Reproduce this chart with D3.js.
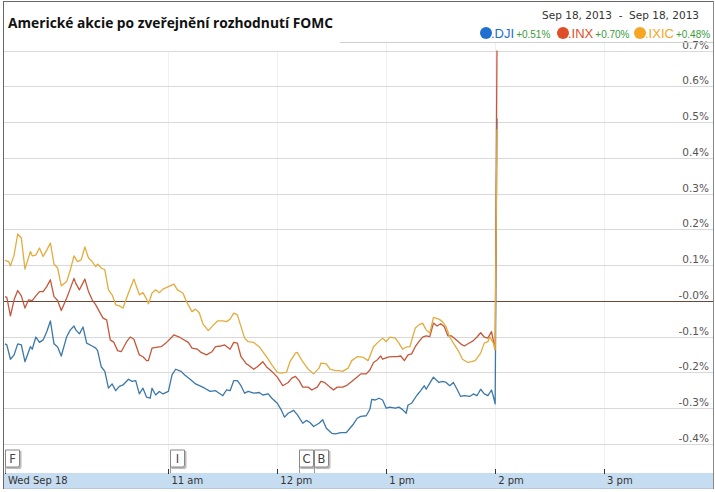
<!DOCTYPE html>
<html><head><meta charset="utf-8">
<script src="https://cdn.jsdelivr.net/npm/d3@7"></script>
<style>body{margin:0;background:#fff}svg{display:block}</style>
</head><body>
<svg id="c" width="715" height="492"></svg>
<script>
// ---- DATA (minutes after 9:30 open, % change) ----
const titleText = "Americké akcie po zveřejnění rozhodnutí FOMC";
const dateRange = "Sep 18, 2013  -  Sep 18, 2013";
const seriesNames = [".DJI", ".INX", ".IXIC"];
const seriesChange = ["+0.51%", "+0.70%", "+0.48%"];

const djiMinutes = [0,1,3,5,7,9,11,14,15,17,19,21,23,25,27,29,31,34,36,38,39,41,43,45,48,50,51,53,55,57,59,61,63,65,68,70,72,74,76,78,80,81,83,85,87,90,92,94,97,99,102,105,108,110,113,116,118,120,122,124,126,128,130,132,134,137,140,142,145,147,150,152,154,156,159,161,164,166,168,170,173,175,177,180,182,185,188,190,192,194,196,199,201,202,204,206,208,210,212,215,217,219,221,222,224,227,229,231,232,234,236,239,241,243,245,247,249,251,253,256,258,260,262,264,266,268,269,270,271];
const djiValues = [-0.120,-0.123,-0.163,-0.151,-0.120,-0.123,-0.170,-0.128,-0.135,-0.101,-0.116,-0.109,-0.086,-0.056,-0.120,-0.129,-0.154,-0.100,-0.081,-0.070,-0.081,-0.092,-0.073,-0.118,-0.126,-0.132,-0.139,-0.184,-0.197,-0.244,-0.232,-0.251,-0.239,-0.235,-0.219,-0.225,-0.223,-0.260,-0.244,-0.269,-0.272,-0.244,-0.263,-0.253,-0.260,-0.253,-0.207,-0.191,-0.197,-0.207,-0.219,-0.232,-0.239,-0.244,-0.253,-0.251,-0.258,-0.265,-0.249,-0.251,-0.223,-0.223,-0.237,-0.258,-0.253,-0.258,-0.256,-0.263,-0.260,-0.272,-0.286,-0.303,-0.325,-0.314,-0.306,-0.318,-0.342,-0.334,-0.340,-0.351,-0.342,-0.332,-0.356,-0.370,-0.372,-0.368,-0.368,-0.356,-0.344,-0.328,-0.323,-0.321,-0.303,-0.275,-0.277,-0.272,-0.277,-0.300,-0.297,-0.300,-0.297,-0.304,-0.314,-0.291,-0.286,-0.263,-0.251,-0.237,-0.247,-0.230,-0.213,-0.228,-0.225,-0.228,-0.237,-0.228,-0.247,-0.267,-0.265,-0.267,-0.260,-0.265,-0.247,-0.260,-0.265,-0.249,-0.267,-0.288,0.51];

const inxMinutes = [0,1,3,5,7,9,11,13,15,17,19,21,23,25,27,29,31,34,36,38,39,41,44,46,48,50,52,54,56,58,60,62,64,67,69,71,74,76,78,79,81,84,86,89,92,93,96,98,101,103,106,108,111,114,116,119,121,124,126,128,130,133,134,137,139,142,144,147,150,153,156,158,160,162,164,167,169,172,174,176,179,181,183,186,188,191,194,196,199,201,203,205,207,208,211,213,216,218,220,222,224,226,228,230,232,234,236,238,240,242,244,246,249,251,253,256,258,260,262,264,266,268,270,271];
const inxValues = [0.012,0.010,-0.042,0.003,0.029,0.014,-0.020,0.003,0.001,0.014,0.026,0.026,0.040,0.059,0.012,0.001,-0.027,0.008,0.035,0.063,0.049,0.031,0.061,0.026,0.003,-0.011,-0.030,-0.048,-0.053,-0.109,-0.116,-0.139,-0.142,-0.114,-0.101,-0.107,-0.151,-0.156,-0.167,-0.167,-0.132,-0.129,-0.128,-0.116,-0.101,-0.095,-0.101,-0.107,-0.116,-0.132,-0.135,-0.144,-0.151,-0.142,-0.128,-0.126,-0.123,-0.135,-0.116,-0.118,-0.156,-0.176,-0.179,-0.191,-0.184,-0.170,-0.184,-0.197,-0.213,-0.237,-0.228,-0.216,-0.211,-0.223,-0.241,-0.241,-0.249,-0.241,-0.225,-0.228,-0.241,-0.249,-0.241,-0.241,-0.237,-0.225,-0.213,-0.204,-0.204,-0.193,-0.172,-0.165,-0.154,-0.163,-0.157,-0.156,-0.156,-0.154,-0.167,-0.151,-0.148,-0.128,-0.114,-0.101,-0.098,-0.100,-0.062,-0.070,-0.064,-0.072,-0.098,-0.098,-0.111,-0.120,-0.126,-0.117,-0.111,-0.101,-0.089,-0.101,-0.104,-0.086,-0.137,0.70];

const ixicMinutes = [0,2,3,5,7,9,11,14,15,17,19,21,23,25,27,29,31,34,36,38,40,42,44,46,48,50,51,53,55,57,59,61,63,65,68,71,74,76,78,79,81,83,85,87,90,93,95,98,100,103,105,107,109,112,114,117,120,122,124,126,128,130,132,134,137,140,142,145,147,150,152,155,157,160,161,164,167,168,170,173,174,177,179,182,184,186,189,191,194,197,200,203,205,208,210,212,215,217,219,221,223,226,228,230,232,234,236,239,241,243,245,247,250,252,255,257,259,262,264,266,267,269,270,271];
const ixicValues = [0.113,0.110,0.098,0.128,0.187,0.176,0.089,0.138,0.126,0.128,0.148,0.124,0.142,0.162,0.103,0.092,0.042,0.054,0.087,0.126,0.110,0.115,0.151,0.120,0.110,0.096,0.103,0.092,0.087,0.031,0.017,-0.011,-0.014,-0.020,0.022,0.061,0.017,0.023,0.005,-0.008,0.022,0.031,0.023,0.033,0.040,0.047,0.031,0.022,-0.002,-0.030,-0.023,-0.033,-0.064,-0.083,-0.072,-0.056,-0.056,-0.058,-0.051,-0.034,-0.039,-0.072,-0.104,-0.114,-0.116,-0.128,-0.142,-0.163,-0.179,-0.200,-0.202,-0.200,-0.170,-0.146,-0.144,-0.170,-0.191,-0.195,-0.204,-0.188,-0.174,-0.176,-0.191,-0.195,-0.195,-0.197,-0.188,-0.167,-0.156,-0.157,-0.167,-0.128,-0.118,-0.104,-0.114,-0.101,-0.104,-0.118,-0.135,-0.129,-0.128,-0.076,-0.067,-0.062,-0.081,-0.090,-0.046,-0.051,-0.058,-0.073,-0.101,-0.118,-0.142,-0.163,-0.172,-0.170,-0.167,-0.146,-0.118,-0.114,-0.100,-0.118,-0.137,0.48];

const yTickValues = [0.7,0.6,0.5,0.4,0.3,0.2,0.1,0,-0.1,-0.2,-0.3,-0.4];
const yTickLabels = ["0.7%","0.6%","0.5%","0.4%","0.3%","0.2%","0.1%","-0.0%","-0.1%","-0.2%","-0.3%","-0.4%"];
const xTickTimes = ["09:30","11:00","12:00","13:00","14:00","15:00"];
const xTickLabels = ["Wed Sep 18","11 am","12 pm","1 pm","2 pm","3 pm"];
const flagLetters = ["F","I","C","B"];
const flagTimes = ["09:30","11:01","12:12","12:20"];

// ---- CHART ----
const svg = d3.select("#c");
const parse = d3.timeParse("%H:%M");
const open = parse("09:30");
const toDate = m => new Date(open.getTime() + m*60000);
const x = d3.scaleTime().domain([parse("09:30"), parse("16:00")]).range([5, 713]);
const y = d3.scaleLinear().domain([-0.4, 0.7]).range([444, 50.5]);

const colors = {dji:"#3b78a9", inx:"#c4573a", ixic:"#e2ac3e"};
const legendColors = ["#1e6fd0","#de4e28","#f5a623"];

// vertical hour gridlines
svg.append("g").selectAll("line").data(xTickTimes.slice(1)).join("line")
  .attr("x1", d=>Math.round(x(parse(d)))+0.5).attr("x2", d=>Math.round(x(parse(d)))+0.5)
  .attr("y1", 42).attr("y2", 471).attr("stroke","#f0f0f0").attr("stroke-width",1);

// horizontal gridlines
svg.append("g").selectAll("line").data(yTickValues).join("line")
  .attr("x1", 3).attr("x2", 713)
  .attr("y1", d=>Math.round(y(d))+0.5).attr("y2", d=>Math.round(y(d))+0.5)
  .attr("stroke", d=> d===0 ? "#6a4a3c" : "#d9d9d9").attr("stroke-width", d=> d===0?1.2:1);

svg.append("g").selectAll("text").data(yTickValues).join("text")
  .attr("x", 709).attr("y", d=>Math.round(y(d))-2)
  .attr("text-anchor","end").attr("font-family","DejaVu Sans, Verdana, sans-serif")
  .attr("font-size", 10.5).attr("fill","#555")
  .text((d,i)=>yTickLabels[i]);

// series lines
const line = d3.line().x(d=>x(d[0])).y(d=>y(d[1]));
const series = [
  {m: djiMinutes, v: djiValues, c: colors.dji},
  {m: inxMinutes, v: inxValues, c: colors.inx},
  {m: ixicMinutes, v: ixicValues, c: colors.ixic}
];
svg.append("g").selectAll("path").data(series).join("path")
  .attr("d", s => line(s.m.map((mm,i)=>[toDate(mm), s.v[i]])))
  .attr("fill","none").attr("stroke", s=>s.c).attr("stroke-width",1.3)
  .attr("stroke-linejoin","round");

// title box (covers top-left)
svg.append("rect").attr("x",3.5).attr("y",2).attr("width",336).attr("height",49).attr("fill","#fff");
// plot top border
svg.append("line").attr("x1",340).attr("x2",713).attr("y1",42.5).attr("y2",42.5).attr("stroke","#cfcfcf");
svg.append("text").attr("x",8).attr("y",28).attr("font-family","Open Sans, sans-serif")
  .attr("font-weight","bold").attr("font-size",15).attr("fill","#111")
  .attr("textLength",325).attr("lengthAdjust","spacingAndGlyphs").text(titleText);

// date range
svg.append("text").attr("x",699).attr("y",19).attr("text-anchor","end")
  .attr("font-family","DejaVu Sans, Verdana, sans-serif").attr("font-size",10.5).attr("fill","#333")
  .attr("xml:space","preserve").style("white-space","pre").text(dateRange);

// legend
const legX = [486, 563, 640];
const lg = svg.append("g").selectAll("g").data(seriesNames).join("g")
  .attr("transform",(d,i)=>`translate(${legX[i]},33)`);
lg.append("circle").attr("r",6).attr("fill",(d,i)=>legendColors[i]);
lg.append("text").attr("x",5).attr("y",4.5).attr("font-family","Liberation Sans, Arial, sans-serif")
  .attr("font-size",13).attr("fill",(d,i)=>legendColors[i]).text(d=>d)
  .each(function(d,i){
    const w = this.getComputedTextLength();
    d3.select(this.parentNode).append("text").attr("x",5+w+2).attr("y",4.5)
      .attr("font-family","Liberation Sans, Arial, sans-serif").attr("font-size",10)
      .attr("fill","#3a9a3a").text(seriesChange[i]);
  });

// bottom axis band
svg.append("rect").attr("x",3.5).attr("y",473).attr("width",709.5).attr("height",15).attr("fill","#c6dcf1");
svg.append("line").attr("x1",3).attr("x2",713).attr("y1",488.5).attr("y2",488.5).attr("stroke","#b5c8dc");
svg.append("g").selectAll("line").data(xTickTimes).join("line")
  .attr("x1", d=>Math.round(x(parse(d)))+0.5).attr("x2", d=>Math.round(x(parse(d)))+0.5)
  .attr("y1", 469).attr("y2", 474).attr("stroke","#333");
svg.append("g").selectAll("text").data(xTickTimes).join("text")
  .attr("x", (d,i)=> i===0 ? 8 : x(parse(d))+3).attr("y", 484)
  .attr("font-family","DejaVu Sans, Tahoma, sans-serif").attr("font-size",10).attr("fill","#333")
  .text((d,i)=>xTickLabels[i]);

// flags
const fg = svg.append("g").selectAll("g").data(flagLetters).join("g")
  .attr("transform",(d,i)=>`translate(${Math.round(x(parse(flagTimes[i])))+0.5},0)`);
fg.append("line").attr("x1",0).attr("x2",0).attr("y1",466).attr("y2",473).attr("stroke","#999");
fg.append("path").attr("d","M1,451 h15 v16 q0,2 -2,2 h-13 Z").attr("fill","#bbb");
fg.append("path").attr("d","M0,450 h14 v15 q0,2 -2,2 h-12 Z").attr("fill","#fff").attr("stroke","#888").attr("stroke-width",1);
fg.append("text").attr("x",7).attr("y",462.5).attr("text-anchor","middle")
  .attr("font-family","DejaVu Sans, Tahoma, sans-serif").attr("font-size",11.5).attr("fill","#444").text(d=>d);

// outer frame
svg.append("line").attr("x1",3).attr("x2",714).attr("y1",1.5).attr("y2",1.5).attr("stroke","#666");
svg.append("line").attr("x1",3.5).attr("x2",3.5).attr("y1",1).attr("y2",489).attr("stroke","#666");
svg.append("line").attr("x1",713.5).attr("x2",713.5).attr("y1",1).attr("y2",489).attr("stroke","#888");
</script>
</body></html>
